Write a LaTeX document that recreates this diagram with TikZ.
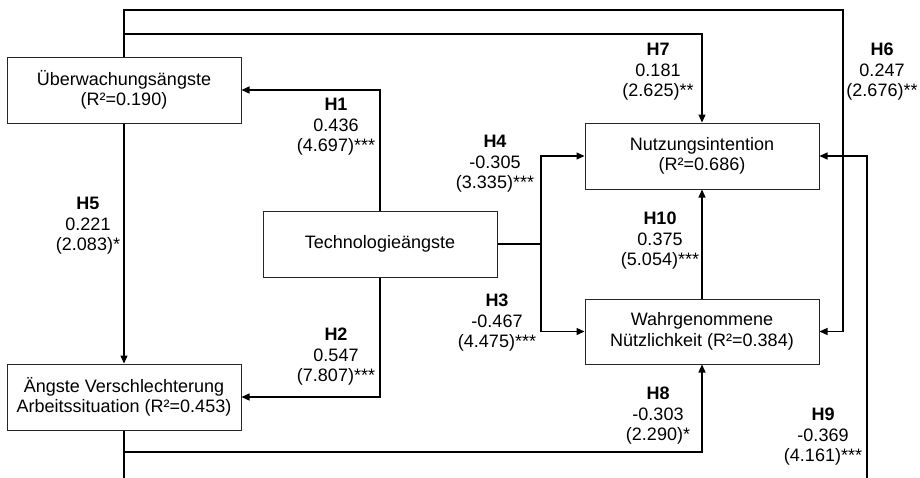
\documentclass[tikz,border=0pt]{standalone}
\usepackage{fontspec}
\setmainfont{Liberation Sans}
\usetikzlibrary{arrows.meta}
\tikzstyle{construct}=[draw=black!85, line width=1pt, minimum width=234pt, minimum height=66pt, inner sep=0pt, align=center, font=\fontsize{18}{20.5}\selectfont]
\tikzstyle{path arrow}=[line width=1.3pt, -{Triangle[length=8pt, width=7pt]}]
\tikzstyle{path label}=[align=center, inner sep=0pt, font=\fontsize{18}{20.5}\selectfont]

\begin{document}
\begin{tikzpicture}[x=1pt, y=-1pt]
      \path[use as bounding box] (0, 0) rectangle (920, 477);
      \clip (0, 0) rectangle (920, 477);
      % constructs
      \node[construct] (ua) at (124, 90) {Überwachungsängste\\(R²=0.190)};
      \node[construct] (av) at (124, 397) {Ängste Verschlechterung\\Arbeitssituation (R²=0.453)};
      \node[construct] (ta) at (380, 244) {Technologieängste};
      \node[construct] (ni) at (702, 156) {Nutzungsintention\\(R²=0.686)};
      \node[construct, minimum height=65pt] (wn) at (702, 331.5) {Wahrgenommene\\Nützlichkeit (R²=0.384)};
      % bends
      \coordinate (split) at (541, 244);
      \coordinate (top6) at (843, 10);
      \coordinate (top7) at (702, 34);
      \coordinate (bot8) at (702, 452);
      \coordinate (bot9) at (867, 490);
      % paths
      \draw[path arrow] (ta.north) |- (ua.east);
      \draw[path arrow] (ta.south) |- (av.east);
      \draw[path arrow] (ua.south) -- (av.north);
      \draw[path arrow] (ta.east) -- (split) |- (ni.west);
      \draw[path arrow] (split) |- (wn.west);
      \draw[path arrow] (wn.north) -- (ni.south);
      \draw[path arrow] (ua.north) |- (top7) -- (ni.north);
      \draw[path arrow] (ua.north) |- (top6) |- (wn.east);
      \draw[path arrow] (av.south) |- (bot8) -- (wn.south);
      \draw[path arrow] (av.south) |- (bot9) |- (ni.east);
      % path coefficients
      \node[path label] (h1) at (336, 127) {\textbf{H1}\\0.436\\(4.697)***};
      \node[path label] (h2) at (336, 357) {\textbf{H2}\\0.547\\(7.807)***};
      \node[path label] (h5) at (88, 226) {\textbf{H5}\\0.221\\(2.083)*};
      \node[path label] (h4) at (495, 164) {\textbf{H4}\\-0.305\\(3.335)***};
      \node[path label] (h3) at (497, 323) {\textbf{H3}\\-0.467\\(4.475)***};
      \node[path label] (h7) at (658, 72) {\textbf{H7}\\0.181\\(2.625)**};
      \node[path label] (h6) at (882, 72) {\textbf{H6}\\0.247\\(2.676)**};
      \node[path label] (h10) at (660, 241) {\textbf{H10}\\0.375\\(5.054)***};
      \node[path label] (h8) at (658, 416) {\textbf{H8}\\-0.303\\(2.290)*};
      \node[path label] (h9) at (823, 437) {\textbf{H9}\\-0.369\\(4.161)***};
    \end{tikzpicture}
\end{document}
